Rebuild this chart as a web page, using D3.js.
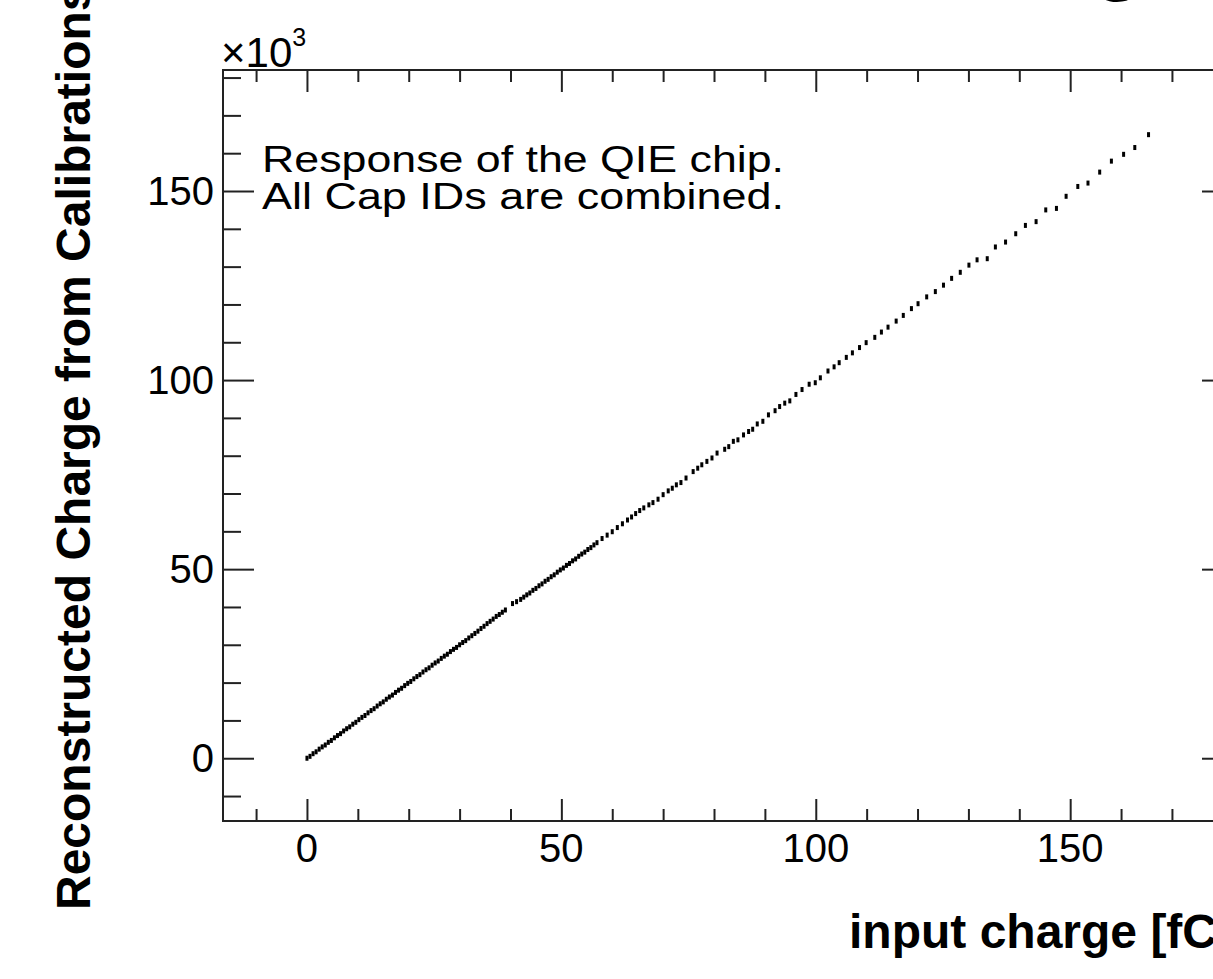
<!DOCTYPE html>
<html>
<head>
<meta charset="utf-8">
<script src="https://cdn.jsdelivr.net/npm/d3@7"></script>
<style>
  html, body { margin: 0; padding: 0; background: #fff; overflow: hidden; }
  text { font-family: "Liberation Sans", Arial, Helvetica, sans-serif; fill: #000; }
</style>
</head>
<body>
<svg id="chart"></svg>
<script>
// input charge [fC] of each filled cell
const inputCharge = [
  0.0, 0.6, 1.2, 1.8, 2.4, 3.0, 3.6, 4.2, 4.8, 5.4, 6.0, 6.6, 7.2, 7.8, 8.4, 9.0, 9.6,
  10.2, 10.8, 11.4, 12.0, 12.6, 13.2, 13.8, 14.4, 15.0, 15.6, 16.2, 16.8, 17.4, 18.0,
  18.6, 19.2, 19.8, 20.4, 21.0, 21.6, 22.2, 22.8, 23.4, 24.0, 24.6, 25.2, 25.8, 26.4,
  27.0, 27.6, 28.2, 28.8, 29.4, 30.0, 30.6, 31.2, 31.8, 32.4, 33.0, 33.6, 34.2, 34.8,
  35.4, 36.0, 36.6, 37.2, 37.8, 38.4, 39.0, 40.4, 41.2, 42.0, 42.6, 43.2, 43.8, 44.4,
  45.0, 45.6, 46.2, 46.8, 47.4, 48.0, 48.6, 49.2, 49.8, 50.4, 51.0, 51.6, 52.2, 52.8,
  53.4, 54.0, 54.6, 55.2, 55.8, 56.4, 57.0, 58.0, 59.0, 60.0, 61.0, 62.0, 63.0, 63.8,
  64.6, 65.4, 66.2, 67.2, 68.0, 69.0, 70.0, 71.0, 71.8, 72.6, 73.5, 74.5, 75.9, 76.8,
  77.6, 78.6, 79.6, 80.6, 82.1, 82.9, 83.8, 84.7, 85.8, 86.8, 87.6, 88.5, 89.6, 90.7,
  92.0, 92.9, 93.9, 94.9, 96.1, 97.3, 98.7, 99.9, 100.9, 102.4, 103.6, 104.6, 106.0,
  107.2, 108.6, 109.9, 111.6, 112.9, 114.2, 115.8, 117.2, 118.8, 120.1, 121.8, 123.5,
  125.1, 126.7, 128.4, 130.1, 131.7, 133.7, 135.3, 137.3, 139.3, 141.2, 143.3, 145.2,
  147.3, 149.2, 151.5, 153.5, 155.8, 158.1, 160.5, 162.7, 165.4
]

// reconstructed charge (x10^3) of each filled cell
const recoCharge = [
  0.0, 0.5, 1.2, 1.7, 2.4, 3.0, 3.5, 4.2, 4.7, 5.4, 6.0, 6.5, 7.2, 7.8, 8.3, 9.0, 9.5,
  10.2, 10.8, 11.3, 12.0, 12.6, 13.1, 13.8, 14.4, 14.9, 15.6, 16.2, 16.7, 17.4, 18.0,
  18.5, 19.2, 19.8, 20.3, 21.0, 21.6, 22.1, 22.8, 23.4, 23.9, 24.6, 25.2, 25.7, 26.4,
  27.0, 27.5, 28.2, 28.8, 29.3, 30.0, 30.6, 31.1, 31.8, 32.4, 33.0, 33.6, 34.3, 34.9,
  35.6, 36.2, 36.8, 37.5, 38.0, 38.6, 39.2, 40.9, 41.4, 42.0, 42.6, 43.2, 43.7, 44.4,
  44.9, 45.6, 46.1, 46.8, 47.3, 48.0, 48.5, 49.2, 49.8, 50.3, 51.0, 51.5, 52.2, 52.7,
  53.4, 54.0, 54.5, 55.2, 55.7, 56.4, 57.0, 58.1, 59.0, 59.9, 61.0, 62.0, 63.0, 63.8,
  64.7, 65.5, 66.2, 67.0, 67.6, 68.5, 69.7, 70.7, 71.4, 72.3, 72.9, 74.1, 75.8, 76.7,
  77.6, 78.5, 79.4, 80.7, 81.7, 82.4, 83.8, 84.2, 85.5, 86.4, 87.0, 88.4, 89.1, 90.8,
  91.9, 93.0, 93.9, 94.5, 96.2, 97.5, 98.9, 99.3, 100.6, 102.4, 103.5, 104.6, 106.0,
  107.2, 108.6, 109.9, 111.3, 112.7, 114.0, 115.6, 117.1, 118.9, 120.2, 122.0, 123.4,
  125.1, 126.9, 128.5, 130.4, 131.8, 132.1, 135.2, 136.5, 138.7, 140.9, 141.9, 145.0,
  145.4, 148.6, 151.2, 152.1, 155.0, 157.9, 159.7, 161.5, 164.9
]

const xMajorTicks = [0, 50, 100, 150]
const yMajorTicks = [0, 50, 100, 150]
const annotationLines = ["Response of the QIE chip.", "All Cap IDs are combined."]

const width = 1213
const height = 979
const frame = { left: 223, right: 1233, top: 70, bottom: 821 }

const svg = d3.select("#chart")
  .attr("width", width)
  .attr("height", height)

// Scales
const x = d3.scaleLinear()
  .domain([-16.5, 182])
  .range([frame.left, frame.right])

const y = d3.scaleLinear()
  .domain([-16.6, 182])
  .range([frame.bottom, frame.top])

const xMinor = d3.range(-10, 181, 10).filter(d => d % 50 !== 0)
const yMinor = d3.range(-10, 181, 10).filter(d => d % 50 !== 0)

// Data cells
svg.append("g")
  .selectAll("rect")
  .data(inputCharge.map((d, i) => [d, recoCharge[i]]))
  .join("rect")
  .attr("x", d => x(d[0]) - 1.5)
  .attr("y", d => y(d[1]) - 2.5)
  .attr("width", 3)
  .attr("height", 5)
  .attr("fill", "#000")

// Frame
svg.append("rect")
  .attr("x", frame.left)
  .attr("y", frame.top)
  .attr("width", frame.right - frame.left)
  .attr("height", frame.bottom - frame.top)
  .attr("fill", "none")
  .attr("stroke", "#222")
  .attr("stroke-width", 2)

// Tick helper: draws one set of ticks without the domain line
const ticks = (axis, pos, values, size) => {
  svg.append("g")
    .attr("transform", pos)
    .call(axis.tickValues(values).tickSize(size).tickFormat(""))
    .call(g => g.select(".domain").remove())
    .call(g => g.selectAll(".tick line").attr("stroke", "#222").attr("stroke-width", 2))
}

// Bottom and top x ticks
ticks(d3.axisTop(x), `translate(0, ${frame.bottom})`, xMajorTicks, 22)
ticks(d3.axisTop(x), `translate(0, ${frame.bottom})`, xMinor, 12)
ticks(d3.axisBottom(x), `translate(0, ${frame.top})`, xMajorTicks, 22)
ticks(d3.axisBottom(x), `translate(0, ${frame.top})`, xMinor, 12)

// Left and right y ticks
ticks(d3.axisRight(y), `translate(${frame.left}, 0)`, yMajorTicks, 31)
ticks(d3.axisRight(y), `translate(${frame.left}, 0)`, yMinor, 18)
ticks(d3.axisLeft(y), `translate(${frame.right}, 0)`, yMajorTicks, 31)
ticks(d3.axisLeft(y), `translate(${frame.right}, 0)`, yMinor, 18)

// X tick labels
svg.append("g")
  .selectAll("text")
  .data(xMajorTicks)
  .join("text")
  .attr("x", d => x(d))
  .attr("y", 862)
  .attr("text-anchor", "middle")
  .attr("font-size", 40)
  .text(d => d)

// Y tick labels
svg.append("g")
  .selectAll("text")
  .data(yMajorTicks)
  .join("text")
  .attr("x", 214)
  .attr("y", d => y(d) + 14)
  .attr("text-anchor", "end")
  .attr("font-size", 40)
  .text(d => d)

// Exponent label
const expo = svg.append("text")
  .attr("x", 221)
  .attr("y", 67)
  .attr("font-size", 42)
expo.append("tspan").text("\u00d710")
expo.append("tspan").attr("dy", -21).attr("font-size", 25).text("3")

// Annotation
svg.append("g")
  .selectAll("text")
  .data(annotationLines)
  .join("text")
  .attr("x", 262)
  .attr("y", (d, i) => 172 + i * 37)
  .attr("font-size", 36)
  .attr("textLength", 522)
  .attr("lengthAdjust", "spacingAndGlyphs")
  .text(d => d)

// Axis titles
svg.append("text")
  .attr("x", 1233)
  .attr("y", 948)
  .attr("text-anchor", "end")
  .attr("font-size", 48)
  .attr("font-weight", "bold")
  .text("input charge [fC]")

svg.append("text")
  .attr("transform", "translate(90, 910) rotate(-90)")
  .attr("font-size", 48)
  .attr("font-weight", "bold")
  .text("Reconstructed Charge from Calibrations")

// Cropped title glyph at the top edge
svg.append("text")
  .attr("x", 1092)
  .attr("y", -16)
  .attr("font-size", 86)
  .attr("font-weight", "bold")
  .text("g")
</script>
</body>
</html>
